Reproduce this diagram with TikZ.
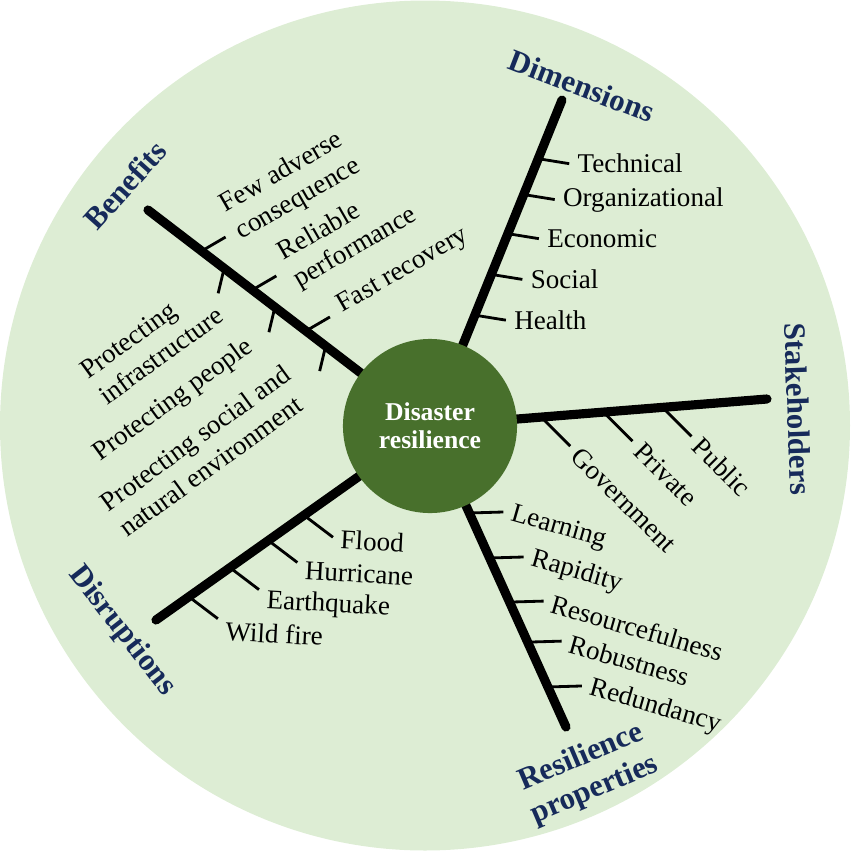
\documentclass[tikz,border=0pt]{standalone}
\usepackage{fontspec}
\setmainfont{Liberation Serif}
\usetikzlibrary{calc}
\definecolor{paleGreen}{RGB}{221,237,212}
\definecolor{deepGreen}{RGB}{72,112,44}
\definecolor{navy}{RGB}{22,42,90}
\tikzset{spoke/.style={line width=2.6pt, line cap=round}}
\tikzset{twig/.style={line width=0.8pt}}
\tikzset{leaf/.style={font=\fontsize{7.7}{9}\selectfont, inner sep=2pt}}
\tikzset{cat/.style={font=\fontsize{8.8}{10}\selectfont\bfseries, text=navy, inner sep=0pt}}
\tikzset{hub/.style={circle, fill=deepGreen, minimum size=1.74cm, inner sep=0pt,
      text=white, align=center, font=\fontsize{7.3}{8}\selectfont\bfseries}}

\begin{document}
\begin{tikzpicture}[x=0.01cm, y=-0.01cm]
	\useasboundingbox (0,0) rectangle (850,851);
	\fill[paleGreen] (425,425.5) circle[radius=425];

	% spokes
	\coordinate (mid) at (430,426);
	\coordinate (benE) at (148,210);
	\coordinate (dimE) at (562,100);
	\coordinate (stkE) at (767,399);
	\coordinate (resE) at (566,727);
	\coordinate (disE) at (156,620);
	\foreach \e in {benE,dimE,stkE,resE,disE}
		\draw[spoke] (mid) -- (\e);

	% dimensions
	\foreach \f/\txt in {0.82/Technical,0.71/Organizational,0.59/Economic,0.465/Social,0.34/Health}
		\draw[twig] ($(mid)!\f!(dimE)$) -- ++(31,5) node[leaf, anchor=west] {\txt};

	% stakeholders
	\foreach \f/\txt in {0.33/Government,0.515/Private,0.69/Public}
		\draw[twig] ($(mid)!\f!(stkE)$) -- ++(29,29) node[leaf, anchor=west, rotate=-45] {\txt};

	% resilience properties
	\foreach \f/\txt in {0.289/Learning,0.4385/Rapidity,0.585/Resourcefulness,0.718/Robustness,0.867/Redundancy}
		\draw[twig] ($(mid)!\f!(resE)$) -- ++(34,-1) node[leaf, anchor=west, rotate=-16] {\txt};

	% disruptions
	\foreach \f/\d/\txt in {0.46/2/Flood,0.59/8/Hurricane,0.73/12/Earthquake,0.88/12/Wild fire}{
		\draw[twig] ($(mid)!\f!(disE)$) -- ++(29,22) coordinate (tw);
		\node[leaf, anchor=west, rotate=-3] at ($(tw)+(0,\d)$) {\txt};
	}

	% benefits
	\foreach \f in {0.81,0.63,0.44}
		\draw[twig] ($(mid)!\f!(benE)$) -- ++(24,-14);
	\foreach \f in {0.73,0.55,0.37}
		\draw[twig] ($(mid)!\f!(benE)$) -- ++(-6,25);
	\node[leaf, inner sep=0pt, rotate=30, anchor=west, align=left] (few) at (230,221) {Few adverse\\consequence};
	\node[leaf, inner sep=0pt, rotate=30, anchor=west, align=left] (rel) at (288,269) {Reliable\\performance};
	\node[leaf, inner sep=0pt, rotate=30, anchor=west] (fast) at (339,308) {Fast recovery};
	\node[leaf, inner sep=0pt, rotate=36, anchor=west, align=left] (infra) at (92,386) {Protecting\\infrastructure};
	\node[leaf, inner sep=0pt, rotate=36, anchor=west] (ppl) at (96,457) {Protecting people};
	\node[leaf, inner sep=0pt, rotate=36, anchor=west, align=left] (env) at (112,518) {Protecting social and\\natural environment};

	% headings
	\node[cat, rotate=48] (benC) at (125,185) {Benefits};
	\node[cat, rotate=-21] (dimC) at (582,86) {Dimensions};
	\node[cat, rotate=-88] (stkC) at (798,409) {Stakeholders};
	\node[cat, rotate=23, align=center] (resC) at (588,774) {Resilience\\properties};
	\node[cat, rotate=-52] (disC) at (122,631) {Disruptions};

	\node[hub] (hub) at (mid) {Disaster\\resilience};
\end{tikzpicture}
\end{document}
